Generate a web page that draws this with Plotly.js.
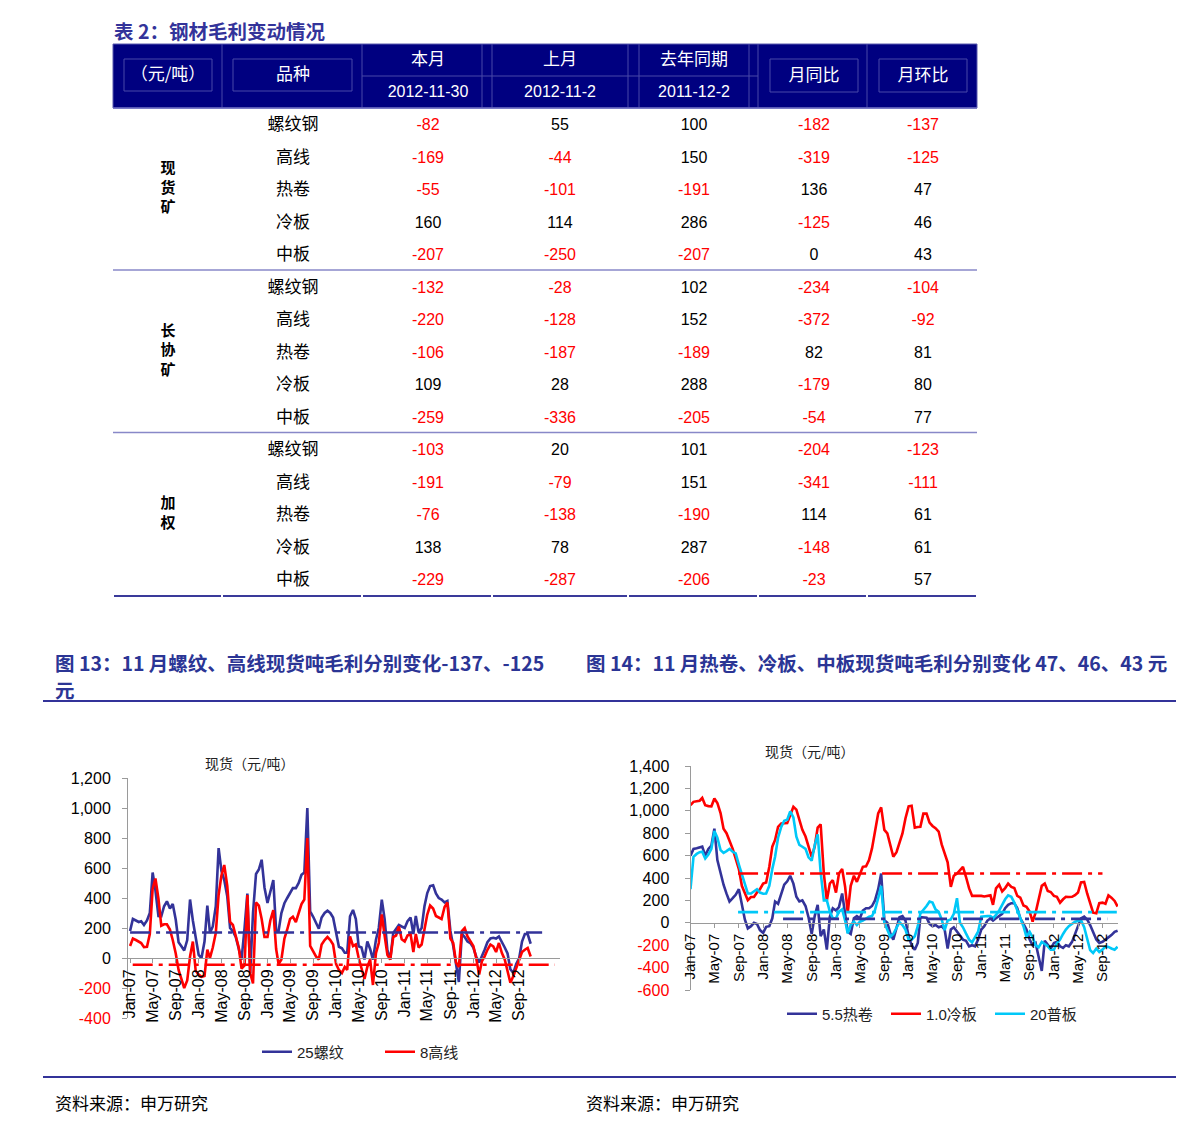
<!DOCTYPE html>
<html>
<head>
<meta charset="utf-8">
<script src="https://cdn.plot.ly/plotly-3.0.1.min.js"></script>
<style>
  html, body { margin: 0; padding: 0; background: #fff; }
  #page { width: 1191px; height: 1131px; }
</style>
</head>
<body>
<div id="page"></div>
<script>
const W = 1191, H = 1131;
const FONT = "'Liberation Sans', 'Noto Sans CJK SC', sans-serif";
const CJK = "'Noto Sans CJK SC', 'Liberation Sans', sans-serif";

// ---- table data ----
const groupNames = ['现货矿', '长协矿', '加权'];
const products = ['螺纹钢', '高线', '热卷', '冷板', '中板'];
const headSide = ['（元/吨）', '品种'];
const headMonths = ['本月', '上月', '去年同期'];
const headDates = ['2012-11-30', '2012-11-2', '2011-12-2'];
const headRatio = ['月同比', '月环比'];

const spotOre = [
  [-82, 55, 100, -182, -137],
  [-169, -44, 150, -319, -125],
  [-55, -101, -191, 136, 47],
  [160, 114, 286, -125, 46],
  [-207, -250, -207, 0, 43]
];
const contractOre = [
  [-132, -28, 102, -234, -104],
  [-220, -128, 152, -372, -92],
  [-106, -187, -189, 82, 81],
  [109, 28, 288, -179, 80],
  [-259, -336, -205, -54, 77]
];
const weighted = [
  [-103, 20, 101, -204, -123],
  [-191, -79, 151, -341, -111],
  [-76, -138, -190, 114, 61],
  [138, 78, 287, -148, 61],
  [-229, -287, -206, -23, 57]
];

// ---- chart 13: 现货 螺纹 / 高线 (half-month points from Jan-07) ----
const rebar25 = [
  180, 260, 250, 240, 245, 220, 250, 300, 570, 450,
  280, 278, 345, 378, 330, 360, 255, 105, 78, 50,
  120, 390, 250, 140, 20, 0, 110, 350, 167, 210,
  345, 733, 580, 520, 411, 200, 178, 140, 60, -11,
  200, 430, -100, 300, 560, 590, 655, 470, 367, 440,
  520, 180, 180, 300, 365, 400, 430, 466, 466, 500,
  555, 570, 1000, 310, 275, 233, 195, 270, 300, 315,
  300, 270, 180, 75, 65, 35, 35, 278, 320, 260,
  78, 70, -10, 111, 60, -11, 122, 200, 389, 260,
  50, -10, 167, 190, 220, 210, 200, 245, 270, 160,
  280, 170, 200, 345, 433, 480, 485, 430, 400, 389,
  370, 380, 180, 80, -50, -160, 160, 140, 110, 100,
  70, 10, -30, 10, 55, 105, 130, 135, 130, 144,
  110, 70, 30, -75, -100, -40, 0, 110, 160, 160, 95
];
const wire8 = [
  80, 130, 120, 110, 100, 72, 75, 160, 460, 530,
  395, 215, 225, 225, 190, 120, 30, -80, -145, -200,
  -150, 10, 110, -85, -110, -125, -120, 55, 0, 70,
  167, 420, 550, 620, 480, 240, 220, 150, 70, -70,
  -50, 420, -100, -170, 370, 350, 260, 140, 140, 250,
  320, 60, -40, -10, 130, 190, 260, 275, 240, 300,
  360, 390, 800, 80, 40, 10, -10, 90, 120, 140,
  120, 90, -40, -80, -100, -60, -80, 144, 80, 90,
  0, -60, -140, -60, -10, -180, 33, 100, 290, 150,
  20, -10, 140, 150, 210, 125, 110, 150, 160, 40,
  160, 70, 90, 190, 290, 350, 330, 280, 270, 260,
  340, 370, 130, 100, -30, -60, 180, 200, 144, 110,
  80, 0, -110, -20, 11, 55, 90, 78, 40, 100,
  33, -10, -90, -165, -120, -70, -20, 40, 55, 67, 10
];
const rebarAvg = 170, wireAvg = -45;
const rebarAvgSpan = ['2007-01-01', '2013-01-01'];
const wireAvgSpan = ['2007-01-15', '2013-03-10'];
const yTicks13 = [-400, -200, 0, 200, 400, 600, 800, 1000, 1200];

// ---- chart 14: 热卷 / 冷板 / 普板 ----
const hotCoil = [
  600, 660, 665, 670, 680, 600, 660, 690, 840, 560,
  440, 340, 260, 190, 220, 250, 300, 150, 30, -50,
  -30, 0, -10, -65, -90, -36, -30, 40, 190, 170,
  262, 340, 370, 420, 350, 232, 190, 200, 150, 50,
  -100, 60, 160, -120, -60, -240, 54, 130, 110, 140,
  262, 54, -80, -100, 40, 60, 40, 110, 130, 130,
  150, 200, 300, 440, 24, 0, -95, -150, -50, 50,
  60, 20, -120, -200, -240, -180, 50, 50, 45, -10,
  -30, -20, -40, -30, -60, -230, -60, -40, -80, -120,
  -150, -160, -210, -200, -210, -150, -60, -30, 20, 40,
  20, 40, 60, 80, 130, 160, 175, 175, 130, 40,
  -10, -60, -150, -200, -180, -300, -430, -160, -200, -230,
  -180, -170, -210, -225, -200, -210, -170, -100, -30, 40,
  55, 30, -20, -90, -150, -180, -170, -150, -130, -110, -80, -70
];
const coldSheet = [
  1050, 1080, 1085, 1090, 1115, 1050, 1042, 1040, 1110, 1070,
  980, 840, 800, 740, 660, 574, 480, 330, 270, 202,
  230, 230, 270, 300, 350, 360, 500, 680, 740, 857,
  887, 890, 890, 960, 1036, 1010, 910, 830, 770, 680,
  589, 680, 850, 880, 440, 200, 351, 380, 270, 440,
  480, 321, 90, 330, 420, 366, 440, 500, 505, 560,
  664, 827, 976, 1030, 830, 798, 679, 590, 630, 710,
  798, 932, 1040, 1045, 850, 855, 857, 975, 975, 895,
  865, 845, 815, 700, 619, 540, 321, 420, 440, 470,
  500, 411, 307, 240, 240, 245, 240, 235, 240, 245,
  160, 307, 340, 280, 310, 350, 321, 310, 240, 225,
  155, 143, 100, 10, 90, 200, 330, 350, 285, 275,
  240, 232, 180, 210, 232, 230, 232, 247, 270, 360,
  365, 262, 180, 90, 85, 175, 180, 170, 245, 225, 195, 145
];
const plate20 = [
  300, 589, 615, 630, 634, 574, 610, 660, 820, 760,
  649, 625, 640, 660, 634, 619, 520, 440, 360, 262,
  262, 280, 300, 270, 260, 262, 330, 480, 590, 760,
  857, 910, 920, 995, 940, 768, 695, 679, 660, 585,
  555, 693, 790, 450, 200, 200, 100, 40, 40, 100,
  120, 20, -95, -20, 10, -20, 10, 20, 40, 55,
  60, 113, 220, 330, 0, -65, -125, -100, -50, 5,
  -20, -60, -150, -150, -120, -30, 83, 113, 150, 190,
  180, 120, 98, 30, -65, 20, 30, 80, 220, 0,
  -40, -95, -150, -175, -130, -80, 54, 60, 60, 60,
  40, 70, 110, 160, 210, 245, 232, 180, 110, 40,
  -30, -125, -80, -130, -200, -220, -170, -190, -210, -240,
  -240, -184, -150, -100, -60, -30, -6, 9, 15, 24,
  -40, -155, -244, -270, -230, -260, -240, -210, -215, -229, -240, -214
];
const hotAvg = 35, coldAvg = 440, plateAvg = 95;
const hotAvgSpan = ['2008-04-10', '2012-09-25'];
const coldAvgSpan = ['2007-08-28', '2012-09-01'];
const plateAvgSpan = ['2007-08-28', '2012-11-12'];
const yTicks14 = [-600, -400, -200, 0, 200, 400, 600, 800, 1000, 1200, 1400];

// half-month dates starting 2007-01-01
function halfMonthDates(n) {
  const out = [];
  for (let k = 0; k < n; k++) {
    const y = 2007 + Math.floor(k / 24);
    const m = Math.floor((k % 24) / 2) + 1;
    out.push(y + '-' + String(m).padStart(2, '0') + '-' + (k % 2 ? '16' : '01'));
  }
  return out;
}
const dates = halfMonthDates(142);

// x tick dates Jan-07 ... Sep-12, every 4 months
const xTickDates = [];
for (let y = 2007; y <= 2012; y++) {
  ['01', '05', '09'].forEach(m => xTickDates.push(y + '-' + m + '-01'));
}

// paper helpers (page pixels -> paper fraction)
const px = (x) => x / W;
const py = (y) => 1 - y / H;

const NAVY = '#333399', RED = '#FF0000', CYAN = '#00C8F8';
const DASH = '20px,6px,4px,6px';

function tickText(vals) {
  return vals.map(v => {
    const s = v.toLocaleString('en-US');
    return v < 0 ? '<span style="color:#FF0000">' + s + '</span>' : s;
  });
}

function series(vals, name, color, xa, ya, leg) {
  return {
    x: dates.slice(0, vals.length), y: vals, name: name,
    type: 'scatter', mode: 'lines', xaxis: xa, yaxis: ya, legend: leg,
    line: { color: color, width: 2.6 }, hoverinfo: 'skip'
  };
}
function avgLine(span, v, color, xa, ya) {
  return {
    x: span, y: [v, v], type: 'scatter', mode: 'lines', xaxis: xa, yaxis: ya,
    showlegend: false, hoverinfo: 'skip',
    line: { color: color, width: 2.6, dash: DASH }
  };
}

const data = [
  series(rebar25, '25螺纹', NAVY, 'x', 'y', 'legend'),
  series(wire8, '8高线', RED, 'x', 'y', 'legend'),
  avgLine(rebarAvgSpan, rebarAvg, NAVY, 'x', 'y'),
  avgLine(wireAvgSpan, wireAvg, RED, 'x', 'y'),
  series(hotCoil, '5.5热卷', NAVY, 'x2', 'y2', 'legend2'),
  series(coldSheet, '1.0冷板', RED, 'x2', 'y2', 'legend2'),
  series(plate20, '20普板', CYAN, 'x2', 'y2', 'legend2'),
  avgLine(coldAvgSpan, coldAvg, RED, 'x2', 'y2'),
  avgLine(plateAvgSpan, plateAvg, CYAN, 'x2', 'y2'),
  avgLine(hotAvgSpan, hotAvg, NAVY, 'x2', 'y2')
];

// ---- table geometry (page pixels on hidden axis x3/y3) ----
const colX = [168, 293, 428, 560, 694, 814, 923];
const rowY0 = 124, rowH = 32.5, textDy = 2;
const tblLeft = 113, tblRight = 977, headTop = 44, headBot = 108;
const colBounds = [113, 222, 362, 492, 628, 758, 867, 977];
const rowY = (r) => rowY0 + rowH * r;

const groups = [spotOre, contractOre, weighted];
const nameX = [], nameY = [], nameT = [];
const valX = [], valY = [], valT = [], valC = [];
groups.forEach((g, gi) => {
  g.forEach((row, ri) => {
    const r = gi * 5 + ri;
    nameX.push(colX[1]); nameY.push(rowY(r) + textDy); nameT.push(products[ri]);
    row.forEach((v, ci) => {
      valX.push(colX[2 + ci]); valY.push(rowY(r) + textDy); valT.push(String(v));
      valC.push(v < 0 ? RED : '#000000');
    });
  });
});
// vertical group labels: one stacked text per group
const grpX = groupNames.map(() => colX[0]);
const grpY = groupNames.map((nm, gi) => rowY(gi * 5 + 2));
const grpT = groupNames.map(nm => Array.from(nm).join('<br>'));

const textTrace = (x, y, t, color, size, fam, weight) => ({
  x: x, y: y, text: t, type: 'scatter', mode: 'text', xaxis: 'x3', yaxis: 'y3',
  textposition: 'middle center', cliponaxis: false, showlegend: false, hoverinfo: 'skip',
  textfont: { color: color, size: size, family: fam, weight: weight || 'normal' }
});

data.push(textTrace(nameX, nameY, nameT, '#000', 17, CJK));
data.push(textTrace(valX, valY, valT, valC, 16, FONT));
data.push(textTrace(grpX, grpY, grpT, '#000', 15, CJK, 'bold'));
// header text
data.push(textTrace(
  [colX[0], colX[1], colX[5], colX[6]], [76, 76, 77, 77],
  [headSide[0], headSide[1], headRatio[0], headRatio[1]], '#FFFFFF', 17, CJK));
data.push(textTrace(colX.slice(2, 5), [61, 61, 61], headMonths, '#FFFFFF', 17, CJK));
data.push(textTrace(colX.slice(2, 5), [93, 93, 93], headDates, '#FFFFFF', 16, FONT));

const shapes = [];
const hLine = (x0, x1, y, color, w) => shapes.push({
  type: 'line', xref: 'x3', yref: 'y3', layer: 'below',
  x0: x0, x1: x1, y0: y, y1: y, line: { color: color, width: w }
});
const vLine = (x, y0, y1, color, w) => shapes.push({
  type: 'line', xref: 'x3', yref: 'y3', layer: 'below',
  x0: x, x1: x, y0: y0, y1: y1, line: { color: color, width: w }
});
const box = (x0, x1, y0, y1, fill, color) => shapes.push({
  type: 'rect', xref: 'x3', yref: 'y3', layer: 'below', x0: x0, x1: x1, y0: y0, y1: y1,
  fillcolor: fill, line: { color: color, width: 1 }
});
box(tblLeft, tblRight, headTop, headBot, '#000080', '#5A5AAE');
[222, 362, 482, 492, 628, 639, 749, 758, 867].forEach(x => vLine(x, headTop, headBot, '#4848A8', 1));
hLine(362, 758, 76, '#4848A8', 1);
[[124, 212], [233, 352]].forEach(b => box(b[0], b[1], 59, 91, 'rgba(0,0,0,0)', '#4848A8'));
[[770, 858], [879, 967]].forEach(b => box(b[0], b[1], 59, 92, 'rgba(0,0,0,0)', '#4848A8'));
hLine(tblLeft, tblRight, headBot, '#6A6AC0', 1.5);
[0, 1].forEach(gi => hLine(tblLeft, tblRight, rowY(gi * 5 + 4) + 16, '#8888C8', 1.5));
for (let i = 0; i < colBounds.length - 1; i++) {
  hLine(colBounds[i] + 1, colBounds[i + 1] - 1, rowY(14) + 17, '#3A3A9A', 2);
}
// page rules
[701, 1077].forEach(y => shapes.push({
  type: 'line', xref: 'paper', yref: 'paper', x0: px(43), x1: px(1176), y0: py(y), y1: py(y),
  line: { color: '#333399', width: 2 }
}));

const ann = (x, y, text, size, color, opts) => Object.assign({
  xref: 'paper', yref: 'paper', x: px(x), y: py(y), text: text, showarrow: false,
  xanchor: 'left', yanchor: 'middle', font: { size: size, color: color, family: CJK }
}, opts || {});

const annotations = [
  ann(112, 30, '<b>表 2：钢材毛利变动情况</b>', 19.5, '#33339A'),
  ann(53, 662, '<b>图 13：11 月螺纹、高线现货吨毛利分别变化-137、-125</b>', 19.5, '#2B3595'),
  ann(53, 689, '<b>元</b>', 19.5, '#2B3595'),
  ann(584, 662, '<b>图 14：11 月热卷、冷板、中板现货吨毛利分别变化 47、46、43 元</b>', 19.5, '#2B3595'),
  ann(53, 1102, '资料来源：申万研究', 17, '#000'),
  ann(584, 1102, '资料来源：申万研究', 17, '#000'),
  ann(250, 763, '现货（元/吨）', 14, '#222', { xanchor: 'center' }),
  ann(810, 751, '现货（元/吨）', 14, '#222', { xanchor: 'center' })
];

const axisCommon = {
  showgrid: false, zeroline: false, showline: true, linecolor: '#9A9A9A', linewidth: 1,
  ticks: 'outside', tickcolor: '#9A9A9A', fixedrange: true
};

const layout = {
  width: W, height: H, margin: { l: 0, r: 0, t: 0, b: 0 },
  paper_bgcolor: '#FFFFFF', plot_bgcolor: 'rgba(0,0,0,0)',
  font: { family: FONT, color: '#000' },
  showlegend: true, hovermode: false,
  xaxis: Object.assign({}, axisCommon, {
    type: 'date', domain: [px(128), px(560)], range: ['2006-12-21', '2013-04-06'],
    anchor: 'free', position: py(958), ticklen: 4,
    tickmode: 'array', tickvals: xTickDates, tickformat: '%b-%y', tickangle: -90,
    tickfont: { size: 16, family: FONT, color: '#000' }
  }),
  yaxis: Object.assign({}, axisCommon, {
    domain: [py(1018), py(778)], range: [-400, 1200], anchor: 'x', ticklen: 5,
    tickvals: yTicks13, ticktext: tickText(yTicks13), ticklabelstandoff: 8,
    tickfont: { size: 16, family: FONT, color: '#000' }
  }),
  xaxis2: Object.assign({}, axisCommon, {
    type: 'date', domain: [px(690.5), px(1118)], range: ['2007-01-01', '2012-11-18'],
    anchor: 'free', position: py(922.7), ticklen: 4,
    tickmode: 'array', tickvals: xTickDates, tickformat: '%b-%y', tickangle: -90,
    tickfont: { size: 15, family: FONT, color: '#000' }
  }),
  yaxis2: Object.assign({}, axisCommon, {
    domain: [py(990), py(766)], range: [-600, 1400], anchor: 'x2', ticklen: 5,
    tickvals: yTicks14, ticktext: tickText(yTicks14), ticklabelstandoff: 12,
    tickfont: { size: 16, family: FONT, color: '#000' }
  }),
  xaxis3: { domain: [0, 1], range: [0, W], visible: false, anchor: 'y3', fixedrange: true },
  yaxis3: { domain: [0, 1], range: [H, 0], visible: false, anchor: 'x3', fixedrange: true },
  legend: {
    x: px(257), y: py(1052), xanchor: 'left', yanchor: 'middle', orientation: 'h',
    entrywidth: 78, bgcolor: 'rgba(0,0,0,0)', font: { size: 15, family: FONT, color: '#222' }
  },
  legend2: {
    x: px(782), y: py(1014), xanchor: 'left', yanchor: 'middle', orientation: 'h',
    entrywidth: 59, bgcolor: 'rgba(0,0,0,0)', font: { size: 15, family: FONT, color: '#222' }
  },
  shapes: shapes,
  annotations: annotations
};

Plotly.newPlot('page', data, layout, { staticPlot: true, displayModeBar: false });
</script>
</body>
</html>
